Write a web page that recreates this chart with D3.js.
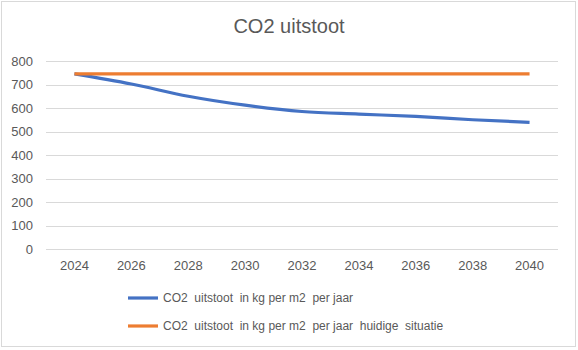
<!DOCTYPE html>
<html>
<head>
<meta charset="utf-8">
<script src="https://cdn.jsdelivr.net/npm/d3@7"></script>
<style>
  body { margin: 0; background: #fff; }
  text { font-family: "Liberation Sans", Arial, sans-serif; fill: #595959; }
</style>
</head>
<body>
<svg id="chart"></svg>
<script>
const years = ['2024', '2026', '2028', '2030', '2032', '2034', '2036', '2038', '2040'];
const uitstoot = [745, 702, 650, 612, 585, 574, 564, 550, 539];
const huidig = [745, 745, 745, 745, 745, 745, 745, 745, 745];
const yTicks = [0, 100, 200, 300, 400, 500, 600, 700, 800];
const seriesNames = [
	'CO2  uitstoot  in kg per m2  per jaar',
	'CO2  uitstoot  in kg per m2  per jaar  huidige  situatie'
];
const colors = ['#4472C4', '#ED7D31'];

const W = 578, H = 350;
const margin = {top: 61, right: 20, bottom: 101, left: 46};
const width = W - margin.left - margin.right,
	height = H - margin.top - margin.bottom;

const svg = d3.select('#chart').attr('width', W).attr('height', H);

svg.append('rect')
	.attr('x', 1.5).attr('y', 1.5)
	.attr('width', 574).attr('height', 345)
	.attr('fill', '#fff').attr('stroke', '#d9d9d9');

svg.append('text')
	.attr('x', W / 2).attr('y', 33)
	.attr('text-anchor', 'middle')
	.style('font-size', '20px')
	.text('CO2 uitstoot');

const g = svg.append('g').attr('transform', `translate(${margin.left},${margin.top})`);

const x = d3.scaleBand().domain(years).range([0, width]);
const y = d3.scaleLinear().domain([0, 800]).range([height, 0]);

// gridlines
g.append('g').selectAll('line')
	.data(yTicks).enter().append('line')
	.attr('x1', 0).attr('x2', width)
	.attr('y1', d => Math.round(y(d)) + 0.5).attr('y2', d => Math.round(y(d)) + 0.5)
	.attr('stroke', '#d9d9d9');

const yAxis = g.append('g')
	.call(d3.axisLeft(y).tickValues(yTicks).tickSize(0).tickPadding(13));
yAxis.select('.domain').remove();
yAxis.selectAll('text').style('font-size', '13px').style('fill', '#595959').attr('font-family', null);

const xAxis = g.append('g')
	.attr('transform', `translate(0,${height})`)
	.call(d3.axisBottom(x).tickSize(0).tickPadding(12));
xAxis.select('.domain').remove();
xAxis.selectAll('text').style('font-size', '13px').style('fill', '#595959').attr('font-family', null);

const line = d3.line()
	.x((d, i) => x(years[i]) + x.bandwidth() / 2)
	.y(d => y(d))
	.curve(d3.curveMonotoneX);

[uitstoot, huidig].forEach((s, i) => {
	g.append('path')
		.datum(s)
		.attr('fill', 'none')
		.attr('stroke', colors[i])
		.attr('stroke-width', 3.2)
		.attr('stroke-linecap', 'butt')
		.attr('d', line);
});

// legend
const legend = svg.append('g');
seriesNames.forEach((name, i) => {
	const ly = 298 + i * 28;
	legend.append('line')
		.attr('x1', 128).attr('x2', 158)
		.attr('y1', ly).attr('y2', ly)
		.attr('stroke', colors[i]).attr('stroke-width', 3.2);
	legend.append('text')
		.attr('x', 163).attr('y', ly + 4)
		.style('font-size', '12px')
		.style('white-space', 'pre')
		.text(name);
});
</script>
</body>
</html>
